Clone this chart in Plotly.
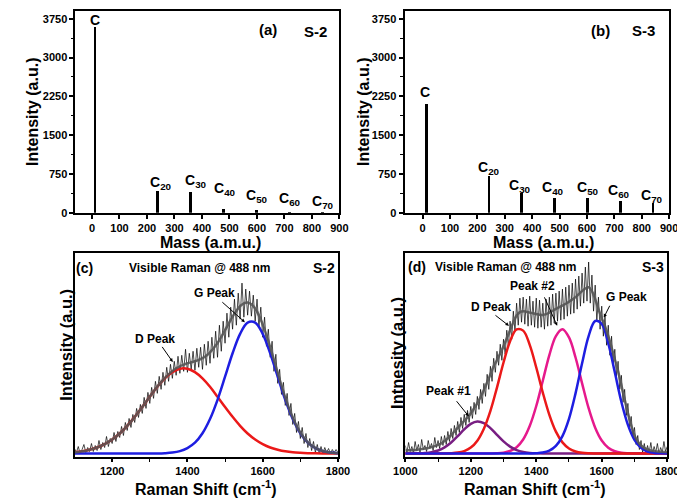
import plotly.graph_objects as go

# ---------------- Mass spectra (a), (b) ----------------
mass_labels = ["C", "C<sub>20</sub>", "C<sub>30</sub>", "C<sub>40</sub>",
               "C<sub>50</sub>", "C<sub>60</sub>", "C<sub>70</sub>"]
mass_amu = [12, 240, 360, 480, 600, 720, 840]
s2_intensity = [3600, 420, 410, 80, 50, 8, 5]
s3_intensity = [2100, 715, 375, 290, 280, 235, 190]
mass_ticks = [0, 100, 200, 300, 400, 500, 600, 700, 800, 900]
intensity_ticks = [0, 750, 1500, 2250, 3000, 3750]

# ---------------- Raman (c) S-2 ----------------
c_fit_shift = list(range(1100, 1801, 20))
c_d_peak = [0.6, 1.1, 1.9, 3.0, 4.7, 7.0, 10.0, 13.8, 18.3, 23.2, 28.3, 33.3, 37.5, 40.6,
            42.3, 42.3, 40.6, 37.5, 33.3, 28.3, 23.2, 18.3, 13.8, 10.0, 7.0, 4.7, 3.0, 1.9,
            1.1, 0.6, 0.35, 0.2, 0.1, 0.05, 0.02, 0.01]
c_g_peak = [0, 0, 0, 0, 0, 0, 0, 0, 0, 0, 0.02, 0.06, 0.18, 0.49, 1.2, 2.7, 5.4, 10.1,
            17.2, 26.8, 38.3, 50.0, 59.7, 65.3, 65.3, 59.7, 50.0, 38.3, 26.8, 17.2, 10.1,
            5.4, 2.7, 1.2, 0.49, 0.18]
c_env_shift = list(range(1100, 1801, 10))
c_envelope = [0.6, 0.8, 1.1, 1.4, 1.9, 2.4, 3.0, 3.8, 4.7, 5.8, 7.0, 8.4, 10.0, 11.8, 13.8,
              15.9, 18.3, 20.7, 23.2, 25.8, 28.3, 30.9, 33.4, 35.6, 37.7, 39.5, 41.1, 42.5,
              43.5, 44.3, 45.0, 45.5, 46.0, 46.7, 47.6, 48.8, 50.5, 52.6, 55.1, 58.2, 61.5,
              64.9, 68.3, 71.1, 73.5, 74.9, 75.3, 74.4, 72.3, 68.9, 64.4, 59.0, 53.0, 46.6,
              40.2, 33.8, 27.9, 22.5, 17.8, 13.8, 10.5, 7.8, 5.6, 4.0, 2.8, 1.9, 1.25, 0.8,
              0.5, 0.3, 0.2]
c_raw = [2.5, 0.5, 3.5, 0.0, 2.0, 4.5, 0.5, 3.0, 1.0, 5.0, 1.0, 4.0, 1.5, 6.5, 2.0, 5.5,
         3.0, 8.5, 3.5, 7.5, 5.0, 10.5, 6.0, 11.0, 8.0, 13.5, 9.0, 15.5, 11.5, 17.5, 13.0,
         19.5, 15.5, 22.5, 18.0, 24.5, 20.0, 28.0, 22.5, 30.5, 25.0, 33.0, 27.5, 36.0, 30.0,
         38.5, 32.0, 40.5, 34.0, 43.0, 36.0, 44.5, 37.5, 46.0, 39.0, 48.5, 40.0, 49.0, 41.0,
         52.0, 40.5, 50.0, 42.0, 51.0, 41.5, 52.5, 43.0, 53.0, 42.0, 54.5, 44.0, 56.0, 45.0,
         58.0, 47.5, 61.0, 48.0, 64.0, 51.0, 66.0, 55.0, 70.0, 58.0, 73.0, 62.0, 77.0, 64.0,
         80.0, 67.0, 85.0, 68.0, 82.0, 69.0, 81.0, 68.5, 79.0, 66.0, 77.0, 63.0, 73.0, 58.0,
         68.0, 53.5, 62.0, 48.0, 56.0, 41.0, 49.5, 35.0, 42.0, 29.5, 35.5, 24.0, 30.0, 19.0,
         25.0, 14.5, 20.0, 10.5, 16.0, 7.5, 13.0, 5.0, 10.0, 3.0, 7.5, 1.5, 6.0, 0.5, 4.5,
         0.0, 3.5, 0.0, 3.0, 0.5, 2.5, 0.0, 2.0, 0.5, 2.0, 0.5]
c_raw_shift = list(range(1100, 1100 + 5 * len(c_raw), 5))

# ---------------- Raman (d) S-3 ----------------
d_fit_shift = list(range(1000, 1801, 20))
d_peak1 = [0.01, 0.02, 0.08, 0.24, 0.64, 1.49, 3.04, 5.48, 8.67, 12.1, 14.8, 16.0, 15.2,
           12.7, 9.36, 6.07, 3.46, 1.74, 0.77, 0.30, 0.10, 0.03, 0.01,
           0, 0, 0, 0, 0, 0, 0, 0, 0, 0, 0, 0, 0, 0, 0, 0, 0, 0]
d_d_peak = [0, 0, 0, 0, 0, 0.01, 0.05, 0.15, 0.46, 1.24, 2.98, 6.42, 12.4, 21.3, 32.9, 45.4,
            56.0, 61.9, 61.3, 54.2, 42.9, 30.4, 19.3, 10.9, 5.56, 2.53, 1.03, 0.37, 0.12,
            0.04, 0.01, 0, 0, 0, 0, 0, 0, 0, 0, 0, 0]
d_peak2 = [0, 0, 0, 0, 0, 0, 0, 0, 0, 0, 0, 0, 0, 0.04, 0.14, 0.45, 1.27, 3.17, 7.01, 13.7,
           23.7, 36.3, 49.1, 58.6, 62.0, 57.9, 47.9, 35.0, 22.6, 12.9, 6.51, 2.91, 1.15,
           0.40, 0.12, 0.03, 0.01, 0, 0, 0, 0]
d_g_peak = [0, 0, 0, 0, 0, 0, 0, 0, 0, 0, 0, 0, 0, 0, 0, 0, 0, 0, 0, 0.03, 0.13, 0.47,
            1.43, 3.78, 8.7, 17.3, 30.0, 45.0, 58.6, 66.1, 64.7, 54.9, 40.5, 25.8, 14.3,
            6.87, 2.86, 1.03, 0.32, 0.09, 0.02]
d_env_shift = list(range(1000, 1801, 10))
d_envelope = [1.5, 1.6, 1.7, 1.8, 2.0, 2.2, 2.5, 2.8, 3.2, 3.7, 4.3, 5.1, 6.2, 7.6, 9.2,
              11.0, 12.8, 14.6, 16.3, 18.0, 20.0, 22.5, 25.2, 28.2, 31.7, 35.5, 39.5, 43.5,
              46.5, 50.0, 53.5, 57.5, 61.5, 65.5, 68.8, 70.5, 71.0, 70.7, 70.3, 70.0, 69.6,
              69.2, 69.1, 69.5, 70.3, 71.2, 72.1, 73.0, 73.8, 74.7, 75.7, 76.8, 78.0, 79.5,
              81.0, 82.3, 82.9, 81.0, 77.0, 72.0, 67.5, 63.5, 58.5, 53.0, 47.0, 41.0, 34.0,
              27.0, 20.0, 14.0, 9.0, 6.0, 4.0, 2.8, 2.0, 1.5, 1.2, 1.0, 0.9, 0.8, 0.8]
d_raw = [4.0, 0.5, 5.5, 1.0, 3.5, 0.0, 6.0, 1.5, 4.5, 0.5, 7.0, 2.0, 4.0, 1.0, 6.5, 2.5,
         5.0, 1.5, 8.0, 3.0, 6.5, 2.5, 8.5, 4.0, 9.0, 4.5, 11.0, 6.0, 12.5, 7.5, 14.0, 9.0,
         16.0, 10.5, 18.0, 12.5, 19.5, 14.0, 21.5, 15.5, 23.5, 17.5, 25.5, 19.5, 28.5, 22.0,
         32.0, 25.0, 35.0, 28.5, 39.5, 32.0, 43.5, 36.0, 47.5, 40.5, 51.0, 44.0, 54.5, 46.5,
         57.0, 49.5, 61.5, 53.0, 66.0, 57.0, 71.0, 61.0, 75.0, 64.0, 77.5, 65.5, 78.0, 64.5,
         77.0, 63.5, 78.5, 64.0, 76.0, 63.0, 77.5, 62.5, 76.5, 63.0, 75.0, 62.0, 77.0, 63.5,
         78.0, 64.0, 79.5, 65.0, 80.0, 66.0, 81.0, 66.5, 82.0, 67.0, 83.0, 68.5, 84.0, 69.5,
         85.0, 70.0, 87.0, 72.0, 88.5, 73.5, 90.0, 75.0, 93.0, 76.0, 95.5, 75.0, 89.0, 71.0,
         84.0, 66.0, 78.0, 62.0, 73.5, 58.5, 69.0, 54.0, 64.0, 49.0, 58.5, 44.0, 52.0, 38.5,
         46.0, 32.0, 39.0, 25.5, 32.0, 19.0, 25.0, 13.0, 18.5, 8.0, 13.0, 4.5, 9.0, 2.0,
         6.5, 0.5, 5.0, 0.0, 4.0, 0.5, 5.5, 0.0, 3.5, 0.5, 5.0, 0.0, 3.0, 0.5, 6.0, 1.0, 3.5]
d_raw_shift = list(range(1000, 1000 + 5 * len(d_raw), 5))

# ---------------- styling ----------------
W, H = 685, 499
FONT = "Liberation Sans, Arial, sans-serif"
RED = "rgb(235,25,25)"
BLUE = "rgb(30,30,225)"
MAGENTA = "rgb(230,25,140)"
PURPLE = "rgb(120,30,130)"
ENV = "rgba(85,85,85,0.9)"


def px(xp, yp):
    return xp / W, 1 - yp / H


def dom_x(a, b):
    return [a / W, b / W]


def dom_y(top, bottom):
    return [1 - bottom / H, 1 - top / H]


fig = go.Figure()

# mass bars
fig.add_trace(go.Bar(x=mass_amu, y=s2_intensity, width=9, marker_color="black",
                     marker_line_width=0, xaxis="x", yaxis="y", showlegend=False))
fig.add_trace(go.Bar(x=mass_amu, y=s3_intensity, width=9, marker_color="black",
                     marker_line_width=0, xaxis="x2", yaxis="y2", showlegend=False))

# Raman (c)
fig.add_trace(go.Scatter(x=c_raw_shift, y=c_raw, mode="lines", line=dict(color="black", width=0.7),
                         xaxis="x3", yaxis="y3", showlegend=False))
fig.add_trace(go.Scatter(x=c_fit_shift, y=c_d_peak, mode="lines", line=dict(color=RED, width=2.5, shape="spline"),
                         xaxis="x3", yaxis="y3", showlegend=False))
fig.add_trace(go.Scatter(x=c_fit_shift, y=c_g_peak, mode="lines", line=dict(color=BLUE, width=2.5, shape="spline"),
                         xaxis="x3", yaxis="y3", showlegend=False))
fig.add_trace(go.Scatter(x=c_env_shift, y=c_envelope, mode="lines", line=dict(color=ENV, width=2.5, shape="spline"),
                         xaxis="x3", yaxis="y3", showlegend=False))

# Raman (d)
fig.add_trace(go.Scatter(x=d_raw_shift, y=d_raw, mode="lines", line=dict(color="black", width=0.7),
                         xaxis="x4", yaxis="y4", showlegend=False))
for ys, col in [(d_peak2, MAGENTA), (d_peak1, PURPLE), (d_d_peak, RED), (d_g_peak, BLUE)]:
    fig.add_trace(go.Scatter(x=d_fit_shift, y=ys, mode="lines", line=dict(color=col, width=2.5, shape="spline"),
                             xaxis="x4", yaxis="y4", showlegend=False))
fig.add_trace(go.Scatter(x=d_env_shift, y=d_envelope, mode="lines", line=dict(color=ENV, width=2.5, shape="spline"),
                         xaxis="x4", yaxis="y4", showlegend=False))

tickfont = dict(family=FONT, size=11, color="black", weight="bold")
frame = dict(showline=True, linewidth=2, linecolor="black", mirror=True, showgrid=False,
             zeroline=False, tickfont=tickfont, ticks="outside", ticklen=4, tickwidth=1.5,
             tickcolor="black")

mass_x = dict(frame, range=[-60, 900], tickvals=mass_ticks, ticktext=[str(t) for t in mass_ticks])
mass_y = dict(frame, range=[0, 3900], tickvals=intensity_ticks, ticktext=[str(t) for t in intensity_ticks],
              minor=dict(tickvals=[375, 1125, 1875, 2625, 3375], ticks="outside", ticklen=2.5,
                         tickwidth=1.2, tickcolor="black"))
raman_y = dict(frame, range=[-1.5, 100], ticks="", showticklabels=False)

fig.update_layout(
    width=W, height=H, margin=dict(l=0, r=0, t=0, b=0),
    paper_bgcolor="white", plot_bgcolor="white", bargap=0,
    font=dict(family=FONT, color="black", size=12),
    xaxis=dict(mass_x, domain=dom_x(57.5, 331), anchor="y"),
    yaxis=dict(mass_y, domain=dom_y(3, 207.3), anchor="x"),
    xaxis2=dict(mass_x, range=[-66, 900], domain=dom_x(398.5, 672.7), anchor="y2"),
    yaxis2=dict(mass_y, domain=dom_y(3, 207.3), anchor="x2"),
    xaxis3=dict(frame, range=[1100, 1800], tickvals=[1200, 1400, 1600, 1800], ticklen=3,
                minor=dict(tickvals=[1300, 1500, 1700], ticks="outside", ticklen=3, tickwidth=1.2,
                           tickcolor="black"),
                domain=dom_x(56.5, 329.5), anchor="y3"),
    yaxis3=dict(raman_y, domain=dom_y(248, 454), anchor="x3"),
    xaxis4=dict(frame, range=[1000, 1800], tickvals=[1000, 1200, 1400, 1600, 1800], ticklen=3,
                minor=dict(tickvals=[1100, 1300, 1500, 1700], ticks="outside", ticklen=3, tickwidth=1.2,
                           tickcolor="black"),
                domain=dom_x(399.3, 670.7), anchor="y4"),
    yaxis4=dict(raman_y, domain=dom_y(248, 454), anchor="x4"),
)

ann = []


def text(t, xp, yp, size=12, angle=0):
    x, y = px(xp, yp)
    ann.append(dict(text=t, x=x, y=y, xref="paper", yref="paper", showarrow=False,
                    xanchor="center", yanchor="middle", textangle=angle,
                    font=dict(family=FONT, size=size, color="black", weight="bold")))


def arrow(tail, head):
    x, y = px(*head)
    ann.append(dict(text="", x=x, y=y, xref="paper", yref="paper", showarrow=True,
                    ax=tail[0] - head[0], ay=tail[1] - head[1], arrowhead=2, arrowsize=0.7,
                    arrowwidth=1, arrowcolor="black"))


# mass peak labels (data coordinates)
s2_label_pos = [(10, 3720), (252, 580), (378, 620), (483, 465), (602, 330), (721, 275), (840, 200)]
s3_label_pos = [(10, 2340), (243, 872), (356, 522), (476, 470), (605, 470), (718, 427), (837, 331)]
for lab, (lx, ly) in zip(mass_labels, s2_label_pos):
    ann.append(dict(text=lab, x=lx, y=ly, xref="x", yref="y", showarrow=False,
                    font=dict(family=FONT, size=14, color="black", weight="bold")))
for lab, (lx, ly) in zip(mass_labels, s3_label_pos):
    ann.append(dict(text=lab, x=lx, y=ly, xref="x2", yref="y2", showarrow=False,
                    font=dict(family=FONT, size=14, color="black", weight="bold")))

# panel labels
text("(a)", 257, 22, 15)
text("S-2", 306.7, 23.3, 15)
text("(b)", 602, 22.5, 15)
text("S-3", 645.8, 22.5, 15)
text("(c)", 66.7, 263, 14)
text("Visible Raman @ 488 nm", 186.7, 263, 12)
text("S-2", 315.5, 263, 14)
text("(d)", 411.7, 262, 14)
text("Visible Raman @ 488 nm", 503.3, 262, 12)
text("S-3", 655.5, 262, 14)

# peak labels and arrows
text("G Peak", 201.7, 288, 12)
text("D Peak", 140, 335, 12)
arrow((209, 296.7), (233, 318))
arrow((146.7, 341.7), (158.3, 358.3))
text("Peak #2", 530.8, 281.7, 12)
text("D Peak", 488.3, 303, 12)
text("G Peak", 628.3, 293, 12)
text("Peak #1", 444.2, 388, 12)
arrow((543.3, 291.7), (556.7, 321.7))
arrow((491.7, 310), (506.7, 321.7))
arrow((611.7, 300), (605, 313.3))
arrow((451.7, 396.7), (465, 413.3))

# axis titles
text("Intensity (a.u.)", 12.7, 105, 16, -90)
text("Intensity (a.u.)", 356.7, 105, 16, -90)
text("Intensity (a.u.)", 47.5, 341, 16.5, -90)
text("Intnesity (a.u.)", 390.8, 349, 16.5, -90)
text("Mass (a.m.u.)", 197.5, 237.5, 16)
text("Mass (a.m.u.)", 542.5, 237.5, 16)
text("Raman Shift (cm<sup>-1</sup>)", 192.5, 486, 16)
text("Raman Shift (cm<sup>-1</sup>)", 534, 486, 16)

fig.update_layout(annotations=ann)
fig.write_html("out.html")
